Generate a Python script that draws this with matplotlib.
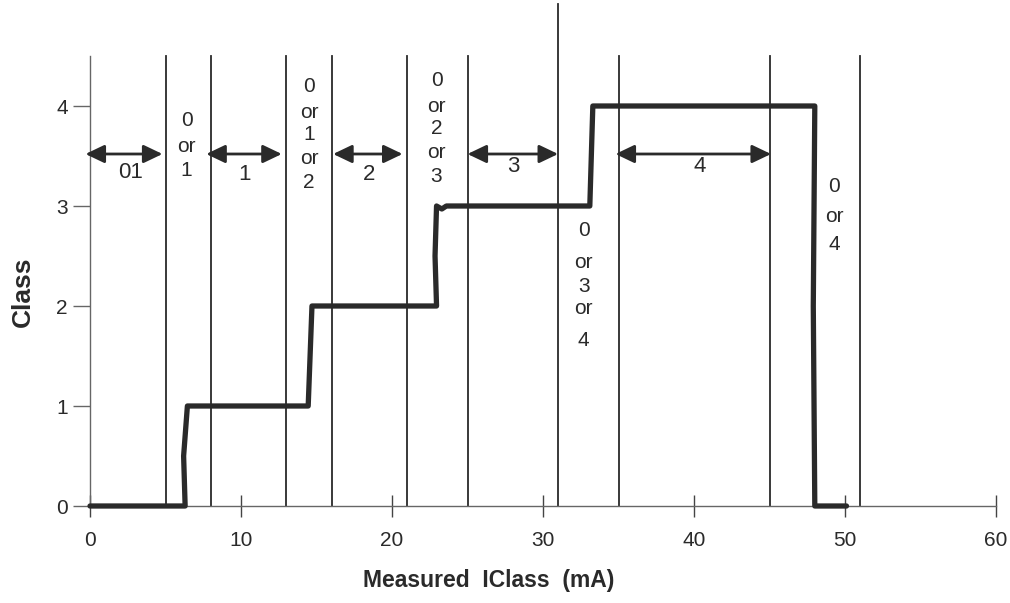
import matplotlib
matplotlib.use("Agg")
import matplotlib.pyplot as plt

plt.rcParams['font.family'] = ['Liberation Sans', 'DejaVu Sans']

# measured class vs current (mA)
curve_x = [0, 6.3, 6.2, 6.45, 14.45, 14.6, 14.7, 22.95, 22.85, 22.95, 23.3, 23.6, 33.1, 33.2, 33.3, 48.0, 47.9, 48.0, 50.1]
curve_y = [0, 0, 0.5, 1.0, 1.0, 1.6, 2.0, 2.0, 2.5, 3.0, 2.97, 3.0, 3.0, 3.5, 4.0, 4.0, 2.0, 0, 0]

# boundaries between classification regions (mA)
boundaries = [5, 8, 13, 16, 21, 25, 31, 35, 45, 51]
tall_boundary = 31

# certain-class ranges shown by double arrows
arrow_start = [-0.3, 7.7, 16.1, 25.0, 34.8]
arrow_end = [4.8, 12.7, 20.7, 31.0, 45.1]
arrow_text = ['01', '1', '2', '3', '4']
arrow_text_x = [2.7, 10.2, 18.5, 28.0, 40.4]
arrow_text_y = [3.33, 3.32, 3.31, 3.39, 3.39]

# ambiguous region labels, one entry per line
amb_lines = [['0', 'or', '1'],
             ['0', 'or', '1', 'or', '2'],
             ['0', 'or', '2', 'or', '3'],
             ['0', 'or', '3', 'or', '4'],
             ['0', 'or', '4']]
amb_x = [6.4, 14.5, 22.95, 32.7, 49.3]
amb_line_y = [[3.85, 3.60, 3.36],
              [4.19, 3.94, 3.71, 3.47, 3.24],
              [4.25, 4.00, 3.77, 3.53, 3.29],
              [2.75, 2.44, 2.20, 1.97, 1.66],
              [3.20, 2.90, 2.62]]

ink = '#2a2a2a'

fig = plt.figure(figsize=(10.1, 6.03), dpi=100)
ax = fig.add_axes([90 / 1010, 97 / 603, 906 / 1010, 450 / 603])
ax.set_xlim(0, 60)
ax.set_ylim(0, 4.5)

for b in boundaries:
    top = 5.02 if b == tall_boundary else 4.5
    ax.plot([b, b], [0, top], color=ink, lw=1.3, clip_on=False, zorder=2)

ax.plot(curve_x, curve_y, color=ink, lw=3.8, solid_capstyle='round',
        solid_joinstyle='round', clip_on=False, zorder=4)

for x0, x1 in zip(arrow_start, arrow_end):
    ax.annotate('', xy=(x1, 3.52), xytext=(x0, 3.52),
                arrowprops=dict(arrowstyle='<|-|>,head_length=1.15,head_width=0.55',
                                color=ink, lw=2, shrinkA=0, shrinkB=0),
                annotation_clip=False, zorder=5)

for t, x, y in zip(arrow_text, arrow_text_x, arrow_text_y):
    ax.text(x, y, t, ha='center', va='center', fontsize=16, color=ink)

for lines, x, ys in zip(amb_lines, amb_x, amb_line_y):
    for t, y in zip(lines, ys):
        ax.text(x, y, t, ha='center', va='center', fontsize=15, color=ink)

for side in ['top', 'right']:
    ax.spines[side].set_visible(False)
ax.spines['left'].set_color('#666666')
ax.spines['bottom'].set_color('#666666')
ax.spines['left'].set_linewidth(1.0)
ax.spines['bottom'].set_linewidth(1.0)

ax.set_xticks(range(0, 61, 10))
ax.set_yticks(range(0, 5))
ax.tick_params(axis='x', direction='inout', length=16, width=1, color='#444444',
               labelsize=15, labelcolor=ink, pad=10)
ax.tick_params(axis='y', direction='out', length=12, width=1, color='#666666',
               labelsize=15, labelcolor=ink, pad=4)

ax.set_xlabel('Measured  IClass  (mA)', fontsize=16.5, fontweight='bold', color=ink)
ax.set_ylabel('Class', fontsize=19, fontweight='bold', color=ink)
ax.xaxis.set_label_coords((489 - 90) / 906, -(580 - 506) / 450, transform=ax.transAxes)
ax.yaxis.set_label_coords(-(90 - 23) / 906, (506 - 292) / 450, transform=ax.transAxes)
ax.xaxis.label.set_va('center')
ax.yaxis.label.set_va('center')

fig.savefig('out.png', dpi=100)
